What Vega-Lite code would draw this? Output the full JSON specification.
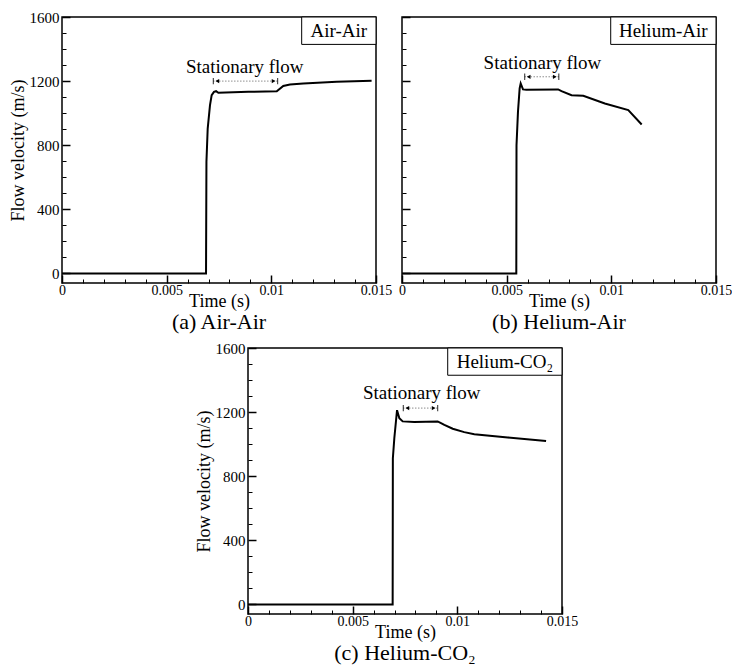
{
  "$schema": "https://vega.github.io/schema/vega-lite/v6.json",
  "background": "white",
  "padding": {"left": 8, "top": 9, "right": 0, "bottom": 0},
  "autosize": {"type": "pad"},
  "config": {
    "font": "Liberation Serif",
    "view": {"stroke": "black", "strokeWidth": 1.5},
    "axis": {"domain": false, "grid": false, "tickColor": "black", "labelColor": "black", "titleColor": "black", "labelFont": "Liberation Serif", "titleFont": "Liberation Serif", "labelFontSize": 15, "titleFontSize": 18, "titleFontWeight": "normal", "labelFlush": false, "labelOverlap": false},
    "axisX": {"labelFontSize": 14},
    "title": {"font": "Liberation Serif", "fontSize": 22, "fontWeight": "normal", "color": "black"},
    "text": {"font": "Liberation Serif", "color": "black"}
  },
  "datasets": {
    "a_curve": [
      {"t": 0, "v": 0}, {"t": 0.00688, "v": 0}, {"t": 0.0069, "v": 696}, {"t": 0.00696, "v": 904},
      {"t": 0.00707, "v": 1050}, {"t": 0.00715, "v": 1112}, {"t": 0.00726, "v": 1133}, {"t": 0.00736, "v": 1137},
      {"t": 0.00747, "v": 1127}, {"t": 0.0089, "v": 1133}, {"t": 0.01026, "v": 1137}, {"t": 0.01057, "v": 1170},
      {"t": 0.01089, "v": 1179}, {"t": 0.01153, "v": 1185}, {"t": 0.01312, "v": 1196}, {"t": 0.01479, "v": 1202}
    ],
    "b_curve": [
      {"t": 0, "v": 0}, {"t": 0.00546, "v": 0}, {"t": 0.00547, "v": 800}, {"t": 0.00554, "v": 1008},
      {"t": 0.00562, "v": 1154}, {"t": 0.00567, "v": 1185}, {"t": 0.00578, "v": 1148}, {"t": 0.00594, "v": 1146},
      {"t": 0.00746, "v": 1148}, {"t": 0.00762, "v": 1137}, {"t": 0.0081, "v": 1112}, {"t": 0.00866, "v": 1108},
      {"t": 0.00969, "v": 1060}, {"t": 0.01081, "v": 1019}, {"t": 0.01145, "v": 929}
    ],
    "c_curve": [
      {"t": 0, "v": 0}, {"t": 0.00691, "v": 0}, {"t": 0.00692, "v": 912}, {"t": 0.00699, "v": 1037},
      {"t": 0.00712, "v": 1212}, {"t": 0.00723, "v": 1162}, {"t": 0.00739, "v": 1142}, {"t": 0.00794, "v": 1138},
      {"t": 0.00906, "v": 1142}, {"t": 0.00922, "v": 1131}, {"t": 0.00938, "v": 1120}, {"t": 0.00978, "v": 1096},
      {"t": 0.01033, "v": 1075}, {"t": 0.01081, "v": 1062}, {"t": 0.01241, "v": 1042}, {"t": 0.01424, "v": 1019}
    ],
    "a_anno": [{"x1": 0.00723, "x2": 0.0103, "y": 1200, "tx": 0.00873, "ty": 1290, "label": "Stationary flow", "bx1": 0.01145, "bx2": 0.015, "by1": 1429, "by2": 1600, "lx": 0.01322, "ly": 1515, "name": "Air-Air"}],
    "b_anno": [{"x1": 0.00586, "x2": 0.00749, "y": 1227, "tx": 0.00671, "ty": 1310, "label": "Stationary flow", "bx1": 0.00997, "bx2": 0.015, "by1": 1429, "by2": 1600, "lx": 0.01248, "ly": 1515, "name": "Helium-Air"}],
    "c_anno": [{"x1": 0.00742, "x2": 0.00906, "y": 1225, "tx": 0.0083, "ty": 1319, "label": "Stationary flow", "bx1": 0.00954, "bx2": 0.015, "by1": 1430, "by2": 1600, "lx": 0.01227, "ly": 1515, "name": "Helium-CO₂"}]
  },
  "spacing": 6,
  "vconcat": [
    {
      "spacing": 4,
      "hconcat": [
        {
          "width": 314, "height": 266,
          "title": {"text": "(a) Air-Air", "orient": "bottom", "offset": 2, "frame": "group"},
          "resolve": {"axis": {"x": "independent", "y": "independent"}},
          "layer": [
            {"data": {"name": "a_curve"}, "mark": {"type": "line", "color": "black", "strokeWidth": 2},
             "encoding": {
               "x": {"field": "t", "type": "quantitative", "scale": {"domain": [0, 0.015], "nice": false, "zero": false},
                     "axis": {"orient": "bottom", "values": [0, 0.005, 0.01, 0.015], "labelExpr": "format(datum.value, '.3~f')", "tickSize": -8, "tickWidth": 1.5, "labelPadding": 8, "title": "Time (s)", "titlePadding": -5}},
               "y": {"field": "v", "type": "quantitative", "scale": {"domain": [-60, 1600], "nice": false, "zero": false},
                     "axis": {"orient": "left", "values": [0, 400, 800, 1200, 1600], "labelExpr": "format(datum.value, 'd')", "tickSize": -8, "tickWidth": 1.5, "labelPadding": 11, "title": "Flow velocity (m/s)", "titlePadding": 2}}
             }},
            {"data": {"name": "a_anno"}, "mark": {"type": "rule", "color": "#555555", "strokeWidth": 1, "strokeDash": [1, 2]},
             "encoding": {
               "x": {"field": "x1", "type": "quantitative", "axis": {"orient": "bottom", "values": [0.001, 0.002, 0.003, 0.004, 0.006, 0.007, 0.008, 0.009, 0.011, 0.012, 0.013, 0.014], "tickSize": -4, "tickWidth": 1, "labels": false, "title": null}},
               "x2": {"field": "x2"},
               "y": {"field": "y", "type": "quantitative", "axis": {"orient": "left", "values": [100, 200, 300, 500, 600, 700, 900, 1000, 1100, 1300, 1400, 1500], "tickSize": -4, "tickWidth": 1, "labels": false, "title": null}}
             }},
            {"data": {"name": "a_anno"}, "mark": {"type": "point", "shape": "M0,-1L0,1", "size": 40, "filled": false, "color": "black", "strokeWidth": 1.2},
             "encoding": {"x": {"field": "x1", "type": "quantitative", "axis": null}, "y": {"field": "y", "type": "quantitative", "axis": null}}},
            {"data": {"name": "a_anno"}, "mark": {"type": "point", "shape": "M0,-1L0,1", "size": 40, "filled": false, "color": "black", "strokeWidth": 1.2},
             "encoding": {"x": {"field": "x2", "type": "quantitative", "axis": null}, "y": {"field": "y", "type": "quantitative", "axis": null}}},
            {"data": {"name": "a_anno"}, "mark": {"type": "point", "shape": "triangle-left", "size": 18, "filled": true, "color": "black", "opacity": 1, "xOffset": 4},
             "encoding": {"x": {"field": "x1", "type": "quantitative", "axis": null}, "y": {"field": "y", "type": "quantitative", "axis": null}}},
            {"data": {"name": "a_anno"}, "mark": {"type": "point", "shape": "triangle-right", "size": 18, "filled": true, "color": "black", "opacity": 1, "xOffset": -4},
             "encoding": {"x": {"field": "x2", "type": "quantitative", "axis": null}, "y": {"field": "y", "type": "quantitative", "axis": null}}},
            {"data": {"name": "a_anno"}, "mark": {"type": "text", "fontSize": 19, "align": "center", "baseline": "middle"},
             "encoding": {"x": {"field": "tx", "type": "quantitative", "axis": null}, "y": {"field": "ty", "type": "quantitative", "axis": null}, "text": {"field": "label"}}},
            {"data": {"name": "a_anno"}, "mark": {"type": "rect", "fill": "white", "stroke": "black", "strokeWidth": 1},
             "encoding": {"x": {"field": "bx1", "type": "quantitative", "axis": null}, "x2": {"field": "bx2"}, "y": {"field": "by1", "type": "quantitative", "axis": null}, "y2": {"field": "by2"}}},
            {"data": {"name": "a_anno"}, "mark": {"type": "text", "fontSize": 19, "align": "center", "baseline": "middle"},
             "encoding": {"x": {"field": "lx", "type": "quantitative", "axis": null}, "y": {"field": "ly", "type": "quantitative", "axis": null}, "text": {"field": "name"}}}
          ]
        },
        {
          "width": 314, "height": 266,
          "title": {"text": "(b) Helium-Air", "orient": "bottom", "offset": 2, "frame": "group"},
          "resolve": {"axis": {"x": "independent", "y": "independent"}},
          "layer": [
            {"data": {"name": "b_curve"}, "mark": {"type": "line", "color": "black", "strokeWidth": 2},
             "encoding": {
               "x": {"field": "t", "type": "quantitative", "scale": {"domain": [0, 0.015], "nice": false, "zero": false},
                     "axis": {"orient": "bottom", "values": [0, 0.005, 0.01, 0.015], "labelExpr": "format(datum.value, '.3~f')", "tickSize": -8, "tickWidth": 1.5, "labelPadding": 8, "title": "Time (s)", "titlePadding": -5}},
               "y": {"field": "v", "type": "quantitative", "scale": {"domain": [-60, 1600], "nice": false, "zero": false},
                     "axis": {"orient": "left", "values": [0, 400, 800, 1200, 1600], "tickSize": -8, "tickWidth": 1.5, "labels": false, "title": null}}
             }},
            {"data": {"name": "b_anno"}, "mark": {"type": "rule", "color": "#555555", "strokeWidth": 1, "strokeDash": [1, 2]},
             "encoding": {
               "x": {"field": "x1", "type": "quantitative", "axis": {"orient": "bottom", "values": [0.001, 0.002, 0.003, 0.004, 0.006, 0.007, 0.008, 0.009, 0.011, 0.012, 0.013, 0.014], "tickSize": -4, "tickWidth": 1, "labels": false, "title": null}},
               "x2": {"field": "x2"},
               "y": {"field": "y", "type": "quantitative", "axis": {"orient": "left", "values": [100, 200, 300, 500, 600, 700, 900, 1000, 1100, 1300, 1400, 1500], "tickSize": -4, "tickWidth": 1, "labels": false, "title": null}}
             }},
            {"data": {"name": "b_anno"}, "mark": {"type": "point", "shape": "M0,-1L0,1", "size": 40, "filled": false, "color": "black", "strokeWidth": 1.2},
             "encoding": {"x": {"field": "x1", "type": "quantitative", "axis": null}, "y": {"field": "y", "type": "quantitative", "axis": null}}},
            {"data": {"name": "b_anno"}, "mark": {"type": "point", "shape": "M0,-1L0,1", "size": 40, "filled": false, "color": "black", "strokeWidth": 1.2},
             "encoding": {"x": {"field": "x2", "type": "quantitative", "axis": null}, "y": {"field": "y", "type": "quantitative", "axis": null}}},
            {"data": {"name": "b_anno"}, "mark": {"type": "point", "shape": "triangle-left", "size": 18, "filled": true, "color": "black", "opacity": 1, "xOffset": 4},
             "encoding": {"x": {"field": "x1", "type": "quantitative", "axis": null}, "y": {"field": "y", "type": "quantitative", "axis": null}}},
            {"data": {"name": "b_anno"}, "mark": {"type": "point", "shape": "triangle-right", "size": 18, "filled": true, "color": "black", "opacity": 1, "xOffset": -4},
             "encoding": {"x": {"field": "x2", "type": "quantitative", "axis": null}, "y": {"field": "y", "type": "quantitative", "axis": null}}},
            {"data": {"name": "b_anno"}, "mark": {"type": "text", "fontSize": 19, "align": "center", "baseline": "middle"},
             "encoding": {"x": {"field": "tx", "type": "quantitative", "axis": null}, "y": {"field": "ty", "type": "quantitative", "axis": null}, "text": {"field": "label"}}},
            {"data": {"name": "b_anno"}, "mark": {"type": "rect", "fill": "white", "stroke": "black", "strokeWidth": 1},
             "encoding": {"x": {"field": "bx1", "type": "quantitative", "axis": null}, "x2": {"field": "bx2"}, "y": {"field": "by1", "type": "quantitative", "axis": null}, "y2": {"field": "by2"}}},
            {"data": {"name": "b_anno"}, "mark": {"type": "text", "fontSize": 19, "align": "center", "baseline": "middle"},
             "encoding": {"x": {"field": "lx", "type": "quantitative", "axis": null}, "y": {"field": "ly", "type": "quantitative", "axis": null}, "text": {"field": "name"}}}
          ]
        }
      ]
    },
    {
      "spacing": 20,
      "hconcat": [
        {"width": 111, "height": 10, "data": {"values": [{"k": 1}]}, "mark": {"type": "point", "opacity": 0}, "view": {"stroke": "transparent"}},
        {
          "width": 314, "height": 266,
          "title": {"text": "(c) Helium-CO₂", "orient": "bottom", "offset": 2, "frame": "group"},
          "resolve": {"axis": {"x": "independent", "y": "independent"}},
          "layer": [
            {"data": {"name": "c_curve"}, "mark": {"type": "line", "color": "black", "strokeWidth": 2},
             "encoding": {
               "x": {"field": "t", "type": "quantitative", "scale": {"domain": [0, 0.015], "nice": false, "zero": false},
                     "axis": {"orient": "bottom", "values": [0, 0.005, 0.01, 0.015], "labelExpr": "format(datum.value, '.3~f')", "tickSize": -8, "tickWidth": 1.5, "labelPadding": 8, "title": "Time (s)", "titlePadding": -5}},
               "y": {"field": "v", "type": "quantitative", "scale": {"domain": [-60, 1600], "nice": false, "zero": false},
                     "axis": {"orient": "left", "values": [0, 400, 800, 1200, 1600], "labelExpr": "format(datum.value, 'd')", "tickSize": -8, "tickWidth": 1.5, "labelPadding": 11, "title": "Flow velocity (m/s)", "titlePadding": 2}}
             }},
            {"data": {"name": "c_anno"}, "mark": {"type": "rule", "color": "#555555", "strokeWidth": 1, "strokeDash": [1, 2]},
             "encoding": {
               "x": {"field": "x1", "type": "quantitative", "axis": {"orient": "bottom", "values": [0.001, 0.002, 0.003, 0.004, 0.006, 0.007, 0.008, 0.009, 0.011, 0.012, 0.013, 0.014], "tickSize": -4, "tickWidth": 1, "labels": false, "title": null}},
               "x2": {"field": "x2"},
               "y": {"field": "y", "type": "quantitative", "axis": {"orient": "left", "values": [100, 200, 300, 500, 600, 700, 900, 1000, 1100, 1300, 1400, 1500], "tickSize": -4, "tickWidth": 1, "labels": false, "title": null}}
             }},
            {"data": {"name": "c_anno"}, "mark": {"type": "point", "shape": "M0,-1L0,1", "size": 40, "filled": false, "color": "black", "strokeWidth": 1.2},
             "encoding": {"x": {"field": "x1", "type": "quantitative", "axis": null}, "y": {"field": "y", "type": "quantitative", "axis": null}}},
            {"data": {"name": "c_anno"}, "mark": {"type": "point", "shape": "M0,-1L0,1", "size": 40, "filled": false, "color": "black", "strokeWidth": 1.2},
             "encoding": {"x": {"field": "x2", "type": "quantitative", "axis": null}, "y": {"field": "y", "type": "quantitative", "axis": null}}},
            {"data": {"name": "c_anno"}, "mark": {"type": "point", "shape": "triangle-left", "size": 18, "filled": true, "color": "black", "opacity": 1, "xOffset": 4},
             "encoding": {"x": {"field": "x1", "type": "quantitative", "axis": null}, "y": {"field": "y", "type": "quantitative", "axis": null}}},
            {"data": {"name": "c_anno"}, "mark": {"type": "point", "shape": "triangle-right", "size": 18, "filled": true, "color": "black", "opacity": 1, "xOffset": -4},
             "encoding": {"x": {"field": "x2", "type": "quantitative", "axis": null}, "y": {"field": "y", "type": "quantitative", "axis": null}}},
            {"data": {"name": "c_anno"}, "mark": {"type": "text", "fontSize": 19, "align": "center", "baseline": "middle"},
             "encoding": {"x": {"field": "tx", "type": "quantitative", "axis": null}, "y": {"field": "ty", "type": "quantitative", "axis": null}, "text": {"field": "label"}}},
            {"data": {"name": "c_anno"}, "mark": {"type": "rect", "fill": "white", "stroke": "black", "strokeWidth": 1},
             "encoding": {"x": {"field": "bx1", "type": "quantitative", "axis": null}, "x2": {"field": "bx2"}, "y": {"field": "by1", "type": "quantitative", "axis": null}, "y2": {"field": "by2"}}},
            {"data": {"name": "c_anno"}, "mark": {"type": "text", "fontSize": 19, "align": "center", "baseline": "middle"},
             "encoding": {"x": {"field": "lx", "type": "quantitative", "axis": null}, "y": {"field": "ly", "type": "quantitative", "axis": null}, "text": {"field": "name"}}}
          ]
        }
      ]
    }
  ]
}
